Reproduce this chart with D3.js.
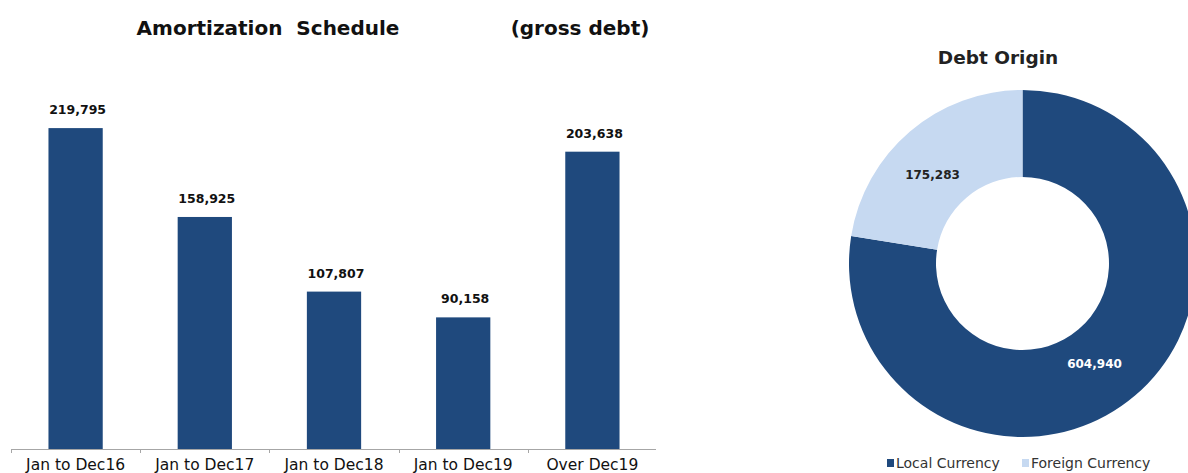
<!DOCTYPE html>
<html><head><meta charset="utf-8">
<script src="https://cdn.jsdelivr.net/npm/d3@7/dist/d3.min.js"></script>
<style>
html,body{margin:0;padding:0;background:#fff;}
svg{display:block;}
text{font-family:"DejaVu Sans",sans-serif;}
</style></head>
<body>
<svg id="c" width="1188" height="473"></svg>
<script>
const categories = ["Jan to Dec16","Jan to Dec17","Jan to Dec18","Jan to Dec19","Over Dec19"];
const amortValues = [219795,158925,107807,90158,203638];
const originLabels = ["Local Currency","Foreign Currency"];
const originValues = [604940,175283];
const barColor = "#1F497D";
const lightColor = "#C6D9F1";

const svg = d3.select("#c");
const fmt = d3.format(",");

// ---- Bar chart ----
const x = d3.scaleBand().domain(categories).range([11,657]).paddingInner(0.58).paddingOuter(0.29);
const y = d3.scaleLinear().domain([0,250000]).range([449,449-365]);
const step = x.step();

svg.append("text").attr("x",268).attr("y",35).attr("text-anchor","middle")
  .attr("font-size",20).attr("font-weight","bold").attr("fill","#111")
  .attr("xml:space","preserve").text("Amortization  Schedule");
svg.append("text").attr("x",580).attr("y",35).attr("text-anchor","middle")
  .attr("font-size",20).attr("font-weight","bold").attr("fill","#111")
  .text("(gross debt)");

svg.selectAll("rect.bar").data(amortValues).join("rect").attr("class","bar")
  .attr("x",(d,i)=>x(categories[i])).attr("width",x.bandwidth())
  .attr("y",d=>y(d)).attr("height",d=>y(0)-y(d)).attr("fill",barColor);

svg.selectAll("text.val").data(amortValues).join("text").attr("class","val")
  .attr("x",(d,i)=>x(categories[i])+x.bandwidth()/2+2).attr("y",d=>y(d)-14)
  .attr("text-anchor","middle").attr("font-size",12.5).attr("font-weight","bold").attr("fill","#111")
  .text(d=>fmt(d));

// axis
const axisG = svg.append("g");
axisG.append("line").attr("x1",11).attr("x2",656).attr("y1",449.5).attr("y2",449.5)
  .attr("stroke","#a6a6a6").attr("stroke-width",1);
axisG.selectAll("line.tick").data(categories).join("line").attr("class","tick")
  .attr("x1",d=>Math.round(x(d)+x.bandwidth()/2-step/2)+0.5)
  .attr("x2",d=>Math.round(x(d)+x.bandwidth()/2-step/2)+0.5)
  .attr("y1",449).attr("y2",453).attr("stroke","#a6a6a6");
axisG.selectAll("text.cat").data(categories).join("text").attr("class","cat")
  .attr("x",d=>x(d)+x.bandwidth()/2).attr("y",470)
  .attr("text-anchor","middle").attr("font-size",15.5).attr("fill","#111")
  .text(d=>d);

// ---- Donut ----
const cx = 1022.5, cy = 263.5;
const pie = d3.pie().sort(null).value(d=>d)(originValues);
const arc = d3.arc().innerRadius(86.5).outerRadius(173.5);
const colors = [barColor, lightColor];
const dg = svg.append("g").attr("transform",`translate(${cx},${cy})`);
dg.selectAll("path").data(pie).join("path").attr("d",arc).attr("fill",(d,i)=>colors[i]);

const labelPos = [[72,100],[-90,-89]];
dg.selectAll("text.dl").data(pie).join("text").attr("class","dl")
  .attr("x",(d,i)=>labelPos[i][0]).attr("y",(d,i)=>labelPos[i][1]+4)
  .attr("text-anchor","middle").attr("font-size",12).attr("font-weight","bold")
  .attr("fill",(d,i)=>i===0?"#fff":"#222").text(d=>fmt(d.data));

svg.append("text").attr("x",998).attr("y",64).attr("text-anchor","middle")
  .attr("font-size",18.5).attr("font-weight","bold").attr("fill","#222").text("Debt Origin");

// legend
const legX = [887,1022];
const lg = svg.selectAll("g.leg").data(originLabels).join("g").attr("class","leg")
  .attr("transform",(d,i)=>`translate(${legX[i]},463)`);
lg.append("rect").attr("x",0).attr("y",-4).attr("width",7).attr("height",8).attr("fill",(d,i)=>colors[i]);
lg.append("text").attr("x",9).attr("y",5).attr("font-size",14).attr("fill","#333").text(d=>d);
</script>
</body></html>
